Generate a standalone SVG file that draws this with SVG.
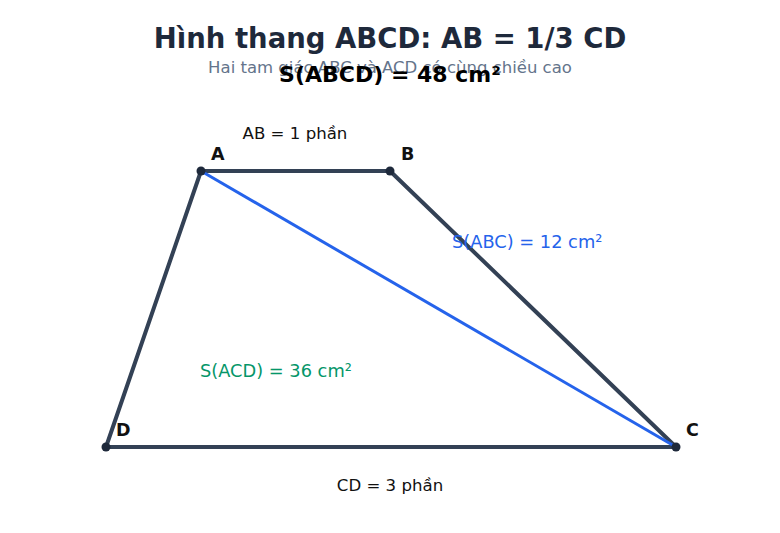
<svg xmlns="http://www.w3.org/2000/svg" width="780" height="533" viewBox="0 0 780 533">
<style>
text{font-family:"DejaVu Sans","Noto Sans",sans-serif}
.title{font-size:27.5px;font-weight:bold;fill:#1e293b;text-anchor:middle}
.sub{font-size:16.5px;fill:#64748b;text-anchor:middle}
.total{font-size:22px;font-weight:bold;fill:#000;text-anchor:middle}
.lbl{font-size:16.6px;fill:#111}
.vx{font-size:17.5px;font-weight:bold;fill:#111}
.edge{stroke:#334155;stroke-width:4;fill:none;stroke-linecap:round}
.diag{stroke:#2563eb;stroke-width:3;fill:none}
.dot{fill:#1e293b}
</style>
<rect width="780" height="533" fill="#ffffff"/>
<text class="title" x="390" y="48">Hình thang ABCD: AB = 1/3 CD</text>
<text class="sub" x="390" y="73">Hai tam giác ABC và ACD có cùng chiều cao</text>
<text class="total" x="390" y="82">S(ABCD) = 48 cm²</text>
<g id="connectors">
<line class="edge" x1="201" y1="171" x2="390" y2="171"/>
<line class="edge" x1="390" y1="171" x2="676" y2="447"/>
<line class="edge" x1="676" y1="447" x2="106" y2="447"/>
<line class="edge" x1="106" y1="447" x2="201" y2="171"/>
<line class="diag" x1="201" y1="171" x2="676" y2="447"/>
</g>
<g id="A"><circle class="dot" cx="201" cy="171" r="4.5"/><text class="vx" x="211" y="160">A</text></g>
<g id="B"><circle class="dot" cx="390" cy="171" r="4.5"/><text class="vx" x="401" y="160">B</text></g>
<g id="C"><circle class="dot" cx="676" cy="447" r="4.5"/><text class="vx" x="686" y="436">C</text></g>
<g id="D"><circle class="dot" cx="106" cy="447" r="4.5"/><text class="vx" x="116" y="436">D</text></g>
<text class="lbl" x="295" y="139" text-anchor="middle">AB = 1 phần</text>
<text class="lbl" x="390" y="491" text-anchor="middle">CD = 3 phần</text>
<text x="452" y="248" font-size="17.8" fill="#2563eb">S(ABC) = 12 cm²</text>
<text x="200" y="377" font-size="17.8" fill="#059669">S(ACD) = 36 cm²</text>
</svg>
